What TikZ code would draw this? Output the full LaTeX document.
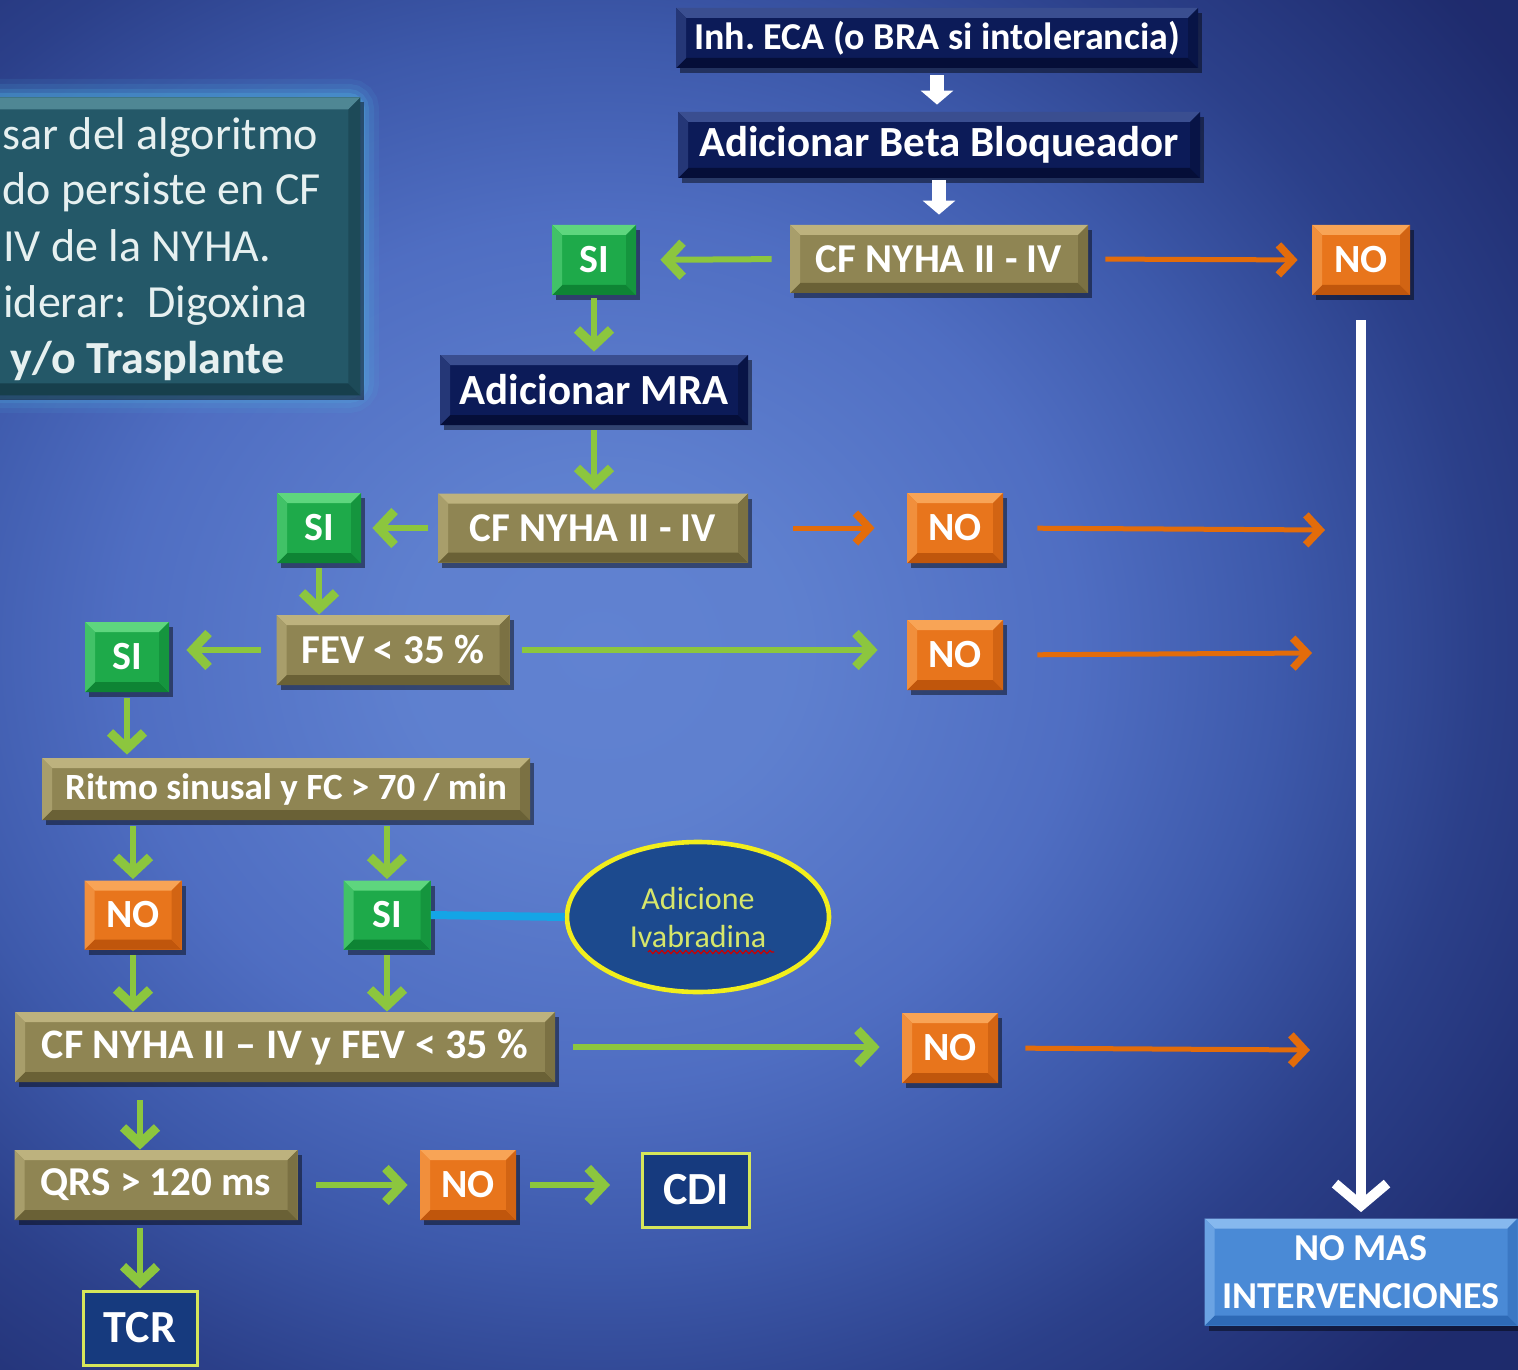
\documentclass[tikz,border=0pt]{standalone}
\usepackage{fontspec}
\setmainfont{Carlito}
\usetikzlibrary{arrows.meta,shadows,shapes.geometric,decorations.pathmorphing}

\definecolor{navy}{HTML}{0C1B58}
\definecolor{navyL}{HTML}{3A4E90}
\definecolor{navyD}{HTML}{050E38}
\definecolor{olive}{HTML}{8F8553}
\definecolor{oliveL}{HTML}{BDB27E}
\definecolor{oliveD}{HTML}{6A6136}
\definecolor{grn}{HTML}{1EAA4A}
\definecolor{grnL}{HTML}{5ED67E}
\definecolor{grnD}{HTML}{0E8434}
\definecolor{org}{HTML}{E8751C}
\definecolor{orgL}{HTML}{F8A456}
\definecolor{orgD}{HTML}{C0560C}
\definecolor{sky}{HTML}{4A8AD6}
\definecolor{skyL}{HTML}{86B8EE}
\definecolor{skyD}{HTML}{2E6AB6}
\definecolor{tealc}{HTML}{245868}
\definecolor{tealL}{HTML}{4F8794}
\definecolor{tealD}{HTML}{173F4C}
\definecolor{glowc}{HTML}{4FB0E0}
\definecolor{arrowgreen}{HTML}{8CC63E}
\definecolor{arroworange}{HTML}{E36C0A}
\definecolor{cyanline}{HTML}{14A5E6}
\definecolor{ellfill}{HTML}{1C4A8E}
\definecolor{ellborder}{HTML}{F2EE1C}
\definecolor{elltext}{HTML}{D6E66A}
\definecolor{framecol}{HTML}{D6E65A}
\definecolor{framefill}{HTML}{163A7E}
\definecolor{lefttext}{HTML}{E6F0F0}

% the middle 50bp square of the shading fills the path's bounding box
\pgfdeclareradialshading{bgshade}{\pgfpoint{0bp}{0bp}}{%
  rgb(0bp)=(0.38,0.51,0.82);
  rgb(5bp)=(0.37,0.50,0.81);
  rgb(12bp)=(0.31,0.43,0.76);
  rgb(17bp)=(0.24,0.35,0.67);
  rgb(22bp)=(0.17,0.25,0.54);
  rgb(28bp)=(0.12,0.17,0.43);
  rgb(50bp)=(0.10,0.14,0.38)}

\newcommand\bevsz{5pt}

\tikzset{
  bx/.style n args={3}{rectangle, inner sep=0pt, text=white, fill=#1,
    drop shadow={shadow xshift=2pt, shadow yshift=-2.5pt, opacity=0.45, fill=black},
    path picture={
      \coordinate (bnw) at (path picture bounding box.north west);
      \coordinate (bne) at (path picture bounding box.north east);
      \coordinate (bsw) at (path picture bounding box.south west);
      \coordinate (bse) at (path picture bounding box.south east);
      \fill[#2] (bnw) -- (bne) -- ([shift={(-\bevsz,-\bevsz)}]bne) -- ([shift={(\bevsz,-\bevsz)}]bnw) -- cycle;
      \fill[#3] (bsw) -- (bse) -- ([shift={(-\bevsz,\bevsz)}]bse) -- ([shift={(\bevsz,\bevsz)}]bsw) -- cycle;
      \fill[#2!55!#1] (bnw) -- ([shift={(\bevsz,-\bevsz)}]bnw) -- ([shift={(\bevsz,\bevsz)}]bsw) -- (bsw) -- cycle;
      \fill[#3!55!#1] (bne) -- ([shift={(-\bevsz,-\bevsz)}]bne) -- ([shift={(-\bevsz,\bevsz)}]bse) -- (bse) -- cycle;
    }},
  navbox/.style={bx={navy}{navyL}{navyD}},
  olvbox/.style={bx={olive}{oliveL}{oliveD}},
  sibox/.style={bx={grn}{grnL}{grnD}, minimum width=42pt, minimum height=35pt, font=\bfseries\fontsize{20}{24}\selectfont},
  nobox/.style={bx={org}{orgL}{orgD}, minimum width=48pt, minimum height=35pt, font=\bfseries\fontsize{20}{24}\selectfont},
  skybox/.style={bx={sky}{skyL}{skyD}},
  framebox/.style={rectangle, inner sep=0pt, fill=framefill, draw=framecol, line width=1.5pt, text=white},
  fs/.style={font=\bfseries\fontsize{#1}{#1}\selectfont},
  notetext/.style={anchor=base west, text=lefttext, inner sep=0pt, font=\fontsize{23}{27}\selectfont},
  garrow/.style={draw=arrowgreen, line width=3pt, -{Straight Barb[length=8pt,width=17pt,line width=4.5pt]}},
  oarrow/.style={draw=arroworange, line width=2.5pt, -{Straight Barb[length=7pt,width=15pt,line width=3.8pt]}},
  warrow/.style={draw=white, line width=7pt, -{Triangle[length=7pt,width=16pt]}},
}

\begin{document}
\frenchspacing
\begin{tikzpicture}[x=0.5pt,y=-0.5pt]
\useasboundingbox (0,0) rectangle (1518,1369);
\begin{scope}
  \clip (0,0) rectangle (1518,1369);
  \shade[shading=bgshade] (-400,-250) rectangle (1600,1550);
  % left note box with glow
  \foreach \w/\o in {36/0.10,26/0.14,16/0.2,8/0.3}{
    \draw[glowc, line width=\w pt/2, opacity=\o, rounded corners=6pt] (-20,97) rectangle (361,395);
  }
  \renewcommand\bevsz{6pt}
  \node[bx={tealc}{tealL}{tealD}, minimum width=195pt, minimum height=149pt, anchor=north west] (note) at (-30,97) {};
\end{scope}
\node[notetext] (l1) at (2,150) {sar del algoritmo};
\node[notetext] (l2) at (2,205) {do persiste en CF};
\node[notetext] (l3) at (3,262) {IV de la NYHA.};
\node[notetext] (l4) at (3,318) {iderar:\ \ Digoxina};
\node[notetext, font=\bfseries\fontsize{23}{27}\selectfont] (l5) at (10,373) {y/o Trasplante};

% top chain
\node[navbox, minimum width=261pt, minimum height=30pt, fs=19] (top) at (937,38) {Inh. ECA (o BRA si intolerancia)};
\node[navbox, minimum width=261pt, minimum height=33pt, fs=21.5] (bb) at (939,145) {Adicionar Beta Bloqueador};
\node[olvbox, minimum width=149pt, minimum height=34pt, fs=20.5] (cf1) at (939,259) {CF NYHA II - IV};
\node[sibox] (si1) at (594,260) {SI};
\node[nobox, minimum width=49pt] (no1) at (1361,260) {NO};
\node[navbox, minimum width=154pt, minimum height=35pt, fs=21.5] (mra) at (594,390) {Adicionar MRA};
\node[olvbox, minimum width=155pt, minimum height=34.5pt, fs=20.5] (cf2) at (593,528) {CF NYHA II - IV};
\node[sibox] (si2) at (319,528) {SI};
\node[nobox] (no2) at (955,528) {NO};
\node[olvbox, minimum width=116.5pt, minimum height=35pt, fs=20.5] (fev) at (393,650) {FEV < 35 \%};
\node[sibox] (si3) at (127,657) {SI};
\node[nobox] (no3) at (955,655) {NO};
\node[olvbox, minimum width=244pt, minimum height=31pt, fs=18.5] (ritmo) at (286,789) {Ritmo sinusal y FC > 70 / min};
\node[nobox, minimum width=48.5pt, minimum height=34.5pt] (no4) at (133,915) {NO};
\node[sibox, minimum width=43.5pt, minimum height=34.5pt] (si4) at (387,915) {SI};
\node[ellipse, fill=ellfill, draw=ellborder, line width=2.3pt, minimum width=131pt, minimum height=75pt, inner sep=0pt,
      text=elltext, font=\fontsize{16}{19}\selectfont, align=center] (ell) at (698,917) {Adicione\\Ivabradina};
\node[olvbox, minimum width=270pt, minimum height=35pt, fs=21] (cf3) at (285,1047) {CF NYHA II -- IV y FEV < 35 \%};
\node[nobox] (no5) at (950,1048) {NO};
\node[olvbox, minimum width=141.5pt, minimum height=35pt, fs=20.5] (qrs) at (156,1185) {QRS > 120 ms};
\node[nobox] (no6) at (468,1185) {NO};
\node[framebox, minimum width=53.5pt, minimum height=37pt, fs=23] (cdi) at (696,1190) {CDI};
\node[framebox, minimum width=57pt, minimum height=37pt, fs=23] (tcr) at (140,1328) {TCR};
\node[skybox, minimum width=156.5pt, minimum height=53.5pt, fs=19, align=center] (nomas) at (1361,1272) {NO MAS\\[5pt]INTERVENCIONES};

% red wavy underline
\coordinate (wv1) at (648,952);
\coordinate (wv2) at (774,952);
\draw[red!80!black, line width=0.6pt, decorate, decoration={snake, amplitude=0.8pt, segment length=3pt}] (wv1) -- (wv2);

% connectors
\draw[warrow, shorten <=3.5pt, shorten >=3.5pt] (top.south) -- (top.south |- bb.north);
\draw[warrow, shorten <=1pt, shorten >=5pt] (bb.south) -- (bb.south |- cf1.north);
\draw[garrow, shorten <=9pt, shorten >=12pt] (cf1.west) -- (si1.east);
\draw[oarrow, shorten <=8.5pt, shorten >=7pt] (cf1.east) -- (no1.west);
\draw[draw=white, line width=5pt, -{Straight Barb[length=11pt,width=26pt,line width=5pt]}, shorten <=12.5pt, shorten >=3pt] (no1.south) -- (nomas.north);
\draw[garrow, shorten <=1.5pt, shorten >=1.5pt] (si1.south) -- (si1.south |- mra.north);
\draw[garrow, shorten <=2.5pt, shorten >=1.5pt] (mra.south) -- (mra.south |- cf2.north);
\draw[garrow, shorten <=5pt, shorten >=5.5pt] (cf2.west) -- (si2.east);
\draw[oarrow, shorten <=22.5pt, shorten >=16pt] (cf2.east) -- (no2.west);
\coordinate (e2) at (1325,530);
\draw[oarrow, shorten <=17pt] (no2.east) -- (e2);
\draw[garrow, shorten <=2.5pt, shorten >=0pt] (si2.south) -- (si2.south |- fev.north);
\draw[garrow, shorten <=7.5pt, shorten >=8.5pt] (fev.west) -- (fev.west -| si3.east);
\draw[garrow, shorten <=6pt, shorten >=14.5pt] (fev.east) -- (fev.east -| no3.west);
\coordinate (e3) at (1312,653);
\draw[oarrow, shorten <=17pt] (no3.east) -- (e3);
\draw[garrow, shorten <=3pt, shorten >=1.5pt] (si3.south) -- (si3.south |- ritmo.north);
\draw[garrow, shorten <=3pt, shorten >=0.5pt] (ritmo.south -| no4.north) -- (no4.north);
\draw[garrow, shorten <=3pt, shorten >=0.5pt] (ritmo.south -| si4.north) -- (si4.north);
\draw[draw=cyanline, line width=4pt] (si4.east) -- (ell.west);
\draw[garrow, shorten <=2.5pt, shorten >=0pt] (no4.south) -- (no4.south |- cf3.north);
\draw[garrow, shorten <=2.5pt, shorten >=0pt] (si4.south) -- (si4.south |- cf3.north);
\draw[garrow, shorten <=9pt, shorten >=11pt] (cf3.east) -- (cf3.east -| no5.west);
\coordinate (e5) at (1310,1050);
\draw[oarrow, shorten <=13.5pt] (no5.east) -- (e5);
\draw[garrow, shorten <=9pt, shorten >=0pt] (cf3.south -| tcr.north) -- (qrs.north -| tcr.north);
\draw[garrow, shorten <=9pt, shorten >=6pt] (qrs.east) -- (no6.west);
\draw[garrow, shorten <=7pt, shorten >=15.5pt] (no6.east) -- (no6.east -| cdi.west);
\draw[garrow, shorten <=4pt, shorten >=0.5pt] (qrs.south -| tcr.north) -- (tcr.north);
\end{tikzpicture}
\end{document}
